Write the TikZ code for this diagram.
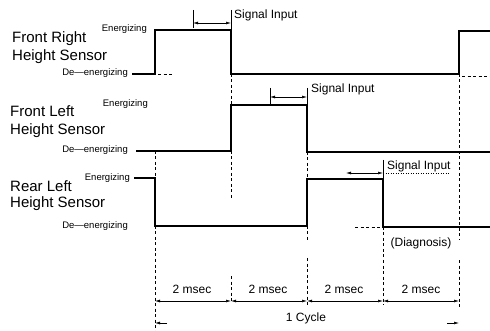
\documentclass[tikz,border=0pt]{standalone}
\usepackage{fontspec}
\setmainfont{Liberation Sans}
\usetikzlibrary{arrows.meta}
\begin{document}
\begin{tikzpicture}[x=1pt,y=-1pt,
  sig/.style={line width=1.3pt},
  guide/.style={line width=0.5pt, dash pattern=on 3pt off 2.5pt},
  tick/.style={line width=0.6pt},
  dimln/.style={line width=0.5pt, {Latex[length=5pt,width=2.8pt]}-{Latex[length=5pt,width=2.8pt]}},
  onearrow/.style={line width=0.5pt, -{Latex[length=5pt,width=2.8pt]}},
  leader/.style={line width=0.4pt, dash pattern=on 1pt off 1.5pt},
  big/.style={font=\fontsize{15}{17}\selectfont, inner sep=0pt, anchor=base west},
  small/.style={font=\fontsize{9.5}{10}\selectfont, inner sep=0pt, anchor=east},
  mid/.style={font=\fontsize{12}{14}\selectfont, inner sep=0pt}]
\useasboundingbox (0,0) rectangle (490,331);

% sensor names
\node[big] (fr1) at (12,43) {Front Right};
\node[big] (fr2) at (12,61) {Height Sensor};
\node[big] (fl1) at (10,117) {Front Left};
\node[big] (fl2) at (10,135) {Height Sensor};
\node[big] (rl1) at (10,192) {Rear Left};
\node[big] (rl2) at (10,208) {Height Sensor};

% level labels
\node[small] (fre) at (147,29) {Energizing};
\node[small] (frd) at (128,73) {De\textemdash energizing};
\node[small] (fle) at (148,104) {Energizing};
\node[small] (fld) at (128,150) {De\textemdash energizing};
\node[small] (rle) at (130,178) {Energizing};
\node[small] (rld) at (128,226) {De\textemdash energizing};

% waveforms
\draw[sig] (132,74) -- (155,74) -- (155,30) -- (231,30) -- (231,74) -- (459,74) -- (459,31) -- (490,31);
\draw[sig] (136,151) -- (231,151) -- (231,105) -- (307,105) -- (307,152) -- (490,152);
\draw[sig] (134,178) -- (155,178) -- (155,226) -- (307,226) -- (307,179) -- (383,179) -- (383,227) -- (490,227);

% horizontal guides
\draw[guide] (158,74) -- (172,74);
\draw[guide] (462,76) -- (490,76);
\draw[guide] (355,227) -- (383,227);

% vertical guides
\draw[guide] (155,151) -- (155,178);
\draw[guide] (155,226) -- (155,331);
\draw[guide] (231,74) -- (231,200);
\draw[guide] (231,276) -- (231,301);
\draw[guide] (307,152) -- (307,179);
\draw[guide] (307,226) -- (307,240);
\draw[guide] (307,258) -- (307,307);
\draw[guide] (383,227) -- (383,305);
\draw[guide] (459,74) -- (459,240);
\draw[guide] (459,260) -- (459,307);

% signal input marks
\draw[tick] (193,10) -- (193,28);
\draw[tick] (231,10) -- (231,30);
\draw[dimln] (193,23) -- (231,23);
\node[mid, anchor=west] (si1) at (234,15) {Signal Input};

\draw[tick] (270,88) -- (270,105);
\draw[tick] (307,88) -- (307,105);
\draw[dimln] (270,97) -- (307,97);
\node[mid, anchor=west] (si2) at (311,89) {Signal Input};

\draw[tick] (383,160) -- (383,179);
\draw[dimln] (346,173) -- (383,173);
\draw[leader] (383,173) -- (450,173);
\node[mid, anchor=west] (si3) at (387,166) {Signal Input};

\node[mid] (diag) at (421,243) {(Diagnosis)};

% timing
\node[mid] (m1) at (192,289) {2 msec};
\node[mid] (m2) at (268,289) {2 msec};
\node[mid] (m3) at (344,289) {2 msec};
\node[mid] (m4) at (421,289) {2 msec};
\draw[dimln] (155,301) -- (231,301);
\draw[dimln] (231,301) -- (307,301);
\draw[dimln] (307,301) -- (383,301);
\draw[dimln] (383,301) -- (459,301);

\node[mid] (cyc) at (306,318) {1 Cycle};
\draw[onearrow] (167,323) -- (155,323);
\draw[onearrow] (447,323) -- (459,323);
\end{tikzpicture}
\end{document}
